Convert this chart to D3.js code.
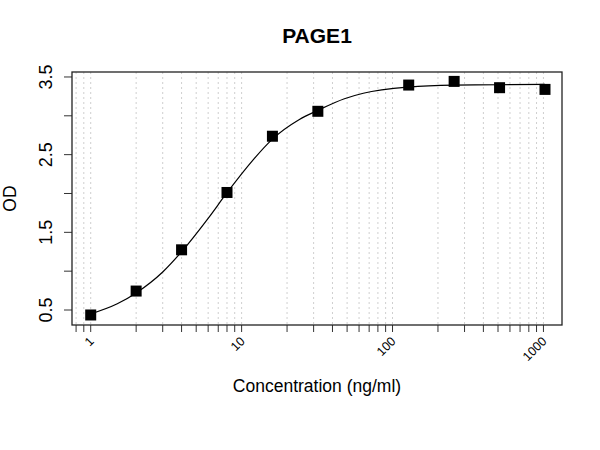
<!DOCTYPE html>
<html>
<head>
<meta charset="utf-8">
<script src="https://cdn.jsdelivr.net/npm/d3@7"></script>
<style>
  body { margin: 0; background: #fff; }
  text { font-family: "Liberation Sans", Arial, sans-serif; }
</style>
</head>
<body>
<div id="T"></div>
<script>
// measured standards
const conc = [1, 2, 4, 8, 16, 32, 128, 256, 512, 1024];
const od = [0.436, 0.744, 1.275, 2.013, 2.737, 3.058, 3.396, 3.443, 3.362, 3.340];

// fitted curve
const curveConc = [1, 1.5, 2, 3, 4, 6, 8, 12, 16, 24, 32, 48, 64, 128, 256, 512, 1024];
const curveOd = [0.45, 0.58, 0.72, 0.99, 1.25, 1.68, 2.01, 2.44, 2.70, 2.95, 3.07, 3.22, 3.29, 3.37, 3.395, 3.40, 3.405];

const yTicks = [0.5, 1, 1.5, 2, 2.5, 3, 3.5];
const yLabels = [0.5, 1.5, 2.5, 3.5];
const xLabels = [1, 10, 100, 1000];

const width = 600, height = 450;
const padL = 72, padR = 562, padT = 72, padB = 325;

const SVG = d3.select('#T').append('svg')
    .attr("width", width)
    .attr("height", height);

const x = d3.scaleLog()
    .domain([Math.pow(10, -0.124), Math.pow(10, 3.123)])
    .range([padL, padR]);
const y = d3.scaleLinear()
    .domain([0.307, 3.564])
    .range([padB, padT]);

// dotted vertical grid at every log tick
const xTicks = x.ticks();
SVG.append("g").selectAll("line")
    .data(xTicks)
    .join("line")
    .attr("x1", d => x(d)).attr("x2", d => x(d))
    .attr("y1", padT).attr("y2", padB)
    .attr("stroke", "#cfcfcf")
    .attr("stroke-width", 1)
    .attr("stroke-dasharray", "2,3");

// x ticks
SVG.append("g").selectAll("line")
    .data(xTicks)
    .join("line")
    .attr("x1", d => x(d)).attr("x2", d => x(d))
    .attr("y1", padB).attr("y2", padB + 7)
    .attr("stroke", "#333");
SVG.append("g").selectAll("text")
    .data(xLabels)
    .join("text")
    .attr("transform", d => `translate(${x(d) + 4},${padB + 17}) rotate(-45)`)
    .attr("text-anchor", "end")
    .style("font-size", "12.5px")
    .text(d => d);

// y ticks
SVG.append("g").selectAll("line")
    .data(yTicks)
    .join("line")
    .attr("x1", padL - 8).attr("x2", padL)
    .attr("y1", d => y(d)).attr("y2", d => y(d))
    .attr("stroke", "#333");
SVG.append("g").selectAll("text")
    .data(yLabels)
    .join("text")
    .attr("transform", d => `translate(52,${y(d)}) rotate(-90)`)
    .attr("text-anchor", "middle")
    .style("font-size", "18px")
    .text(d => d.toFixed(1));

// box
SVG.append("rect")
    .attr("x", padL).attr("y", padT)
    .attr("width", padR - padL).attr("height", padB - padT)
    .attr("fill", "none")
    .attr("stroke", "#222")
    .attr("stroke-width", 1.3);

// fitted curve
const line = d3.line()
    .x(d => x(d[0]))
    .y(d => y(d[1]))
    .curve(d3.curveMonotoneX);
SVG.append("path")
    .datum(d3.zip(curveConc, curveOd))
    .attr("d", line)
    .attr("fill", "none")
    .attr("stroke", "#000")
    .attr("stroke-width", 1.2);

// points
const s = 11;
SVG.append("g").selectAll("rect")
    .data(d3.zip(conc, od))
    .join("rect")
    .attr("x", d => x(d[0]) - s / 2)
    .attr("y", d => y(d[1]) - s / 2)
    .attr("width", s).attr("height", s)
    .attr("fill", "#000");

// titles
SVG.append("text")
    .attr("x", (padL + padR) / 2).attr("y", 43)
    .attr("text-anchor", "middle")
    .style("font-size", "21px")
    .style("font-weight", "bold")
    .text("PAGE1");
SVG.append("text")
    .attr("x", (padL + padR) / 2).attr("y", 392)
    .attr("text-anchor", "middle")
    .style("font-size", "17.5px")
    .text("Concentration (ng/ml)");
SVG.append("text")
    .attr("transform", `translate(16,${(padT + padB) / 2}) rotate(-90)`)
    .attr("text-anchor", "middle")
    .style("font-size", "17.5px")
    .text("OD");
</script>
</body>
</html>
